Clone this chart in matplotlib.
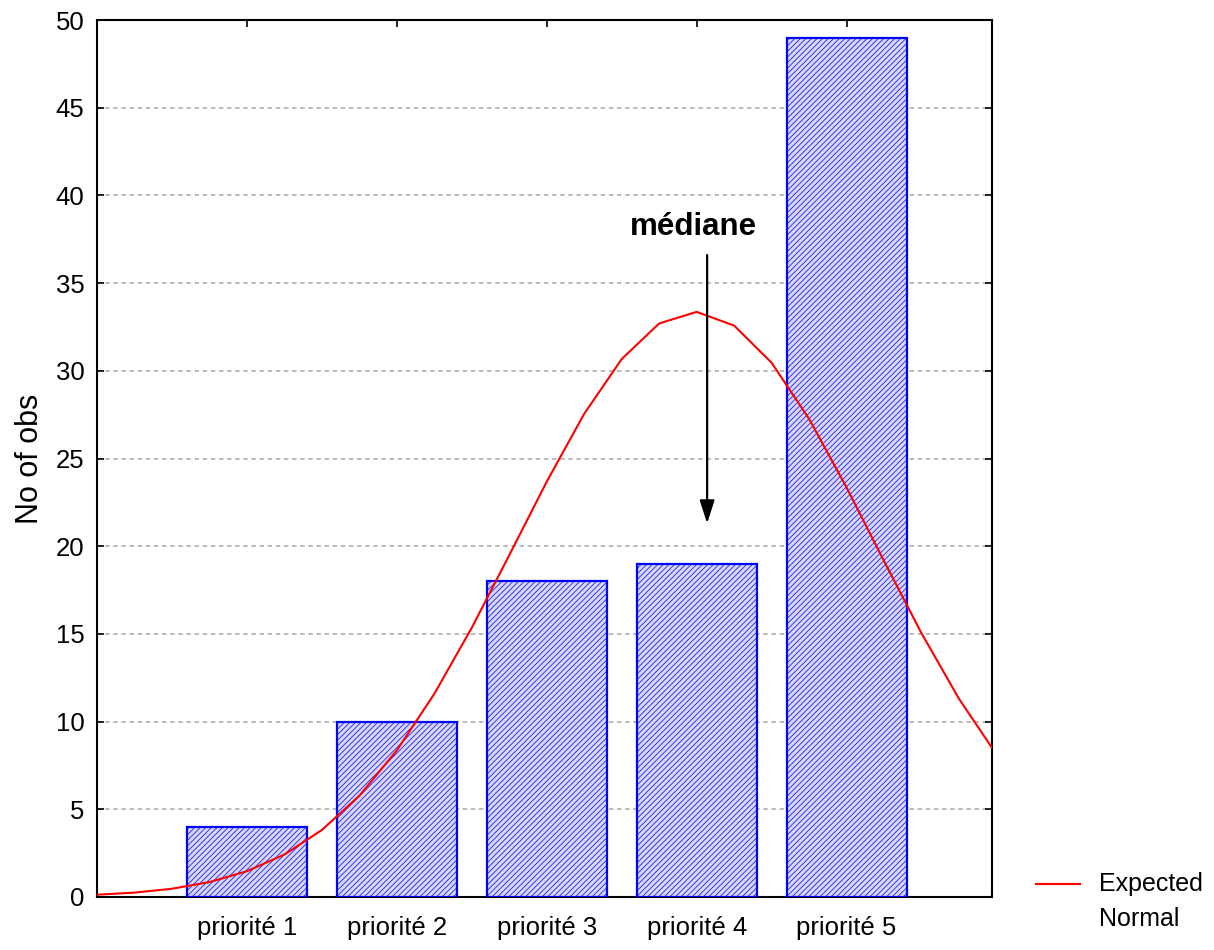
import numpy as np
import matplotlib
matplotlib.use("Agg")
from matplotlib import pyplot as plt
from matplotlib.lines import Line2D

plt.rcParams['font.family'] = ['Liberation Sans', 'DejaVu Sans']
plt.rcParams['hatch.linewidth'] = 0.5
plt.rcParams['hatch.color'] = '#2a2aff'

categories = ["priorité 1", "priorité 2", "priorité 3", "priorité 4", "priorité 5"]
counts = [4, 10, 18, 19, 49]

# expected normal curve
curve_x = [0.0, 0.25, 0.5, 0.75, 1.0, 1.25, 1.5, 1.75, 2.0, 2.25, 2.5, 2.75, 3.0,
           3.25, 3.5, 3.75, 4.0, 4.25, 4.5, 4.75, 5.0, 5.25, 5.5, 5.75, 6.0]
curve_y = [0.13, 0.25, 0.47, 0.85, 1.47, 2.42, 3.82, 5.77, 8.36, 11.58, 15.35, 19.49, 23.68,
           27.55, 30.67, 32.70, 33.36, 32.58, 30.46, 27.26, 23.35, 19.15, 15.04, 11.30, 8.13]

yticks = [0, 5, 10, 15, 20, 25, 30, 35, 40, 45, 50]
median_x = 4.07
median_top = 36.6
median_tip = 21.3

fig = plt.figure(figsize=(12.14, 9.5), dpi=100)
ax = fig.add_axes([0.0799, 0.0558, 0.7372, 0.9231])

xpos = np.arange(1, len(categories) + 1)
ax.bar(xpos, counts, width=0.8, facecolor='#d6d6f6', edgecolor='blue', linewidth=1.6,
       hatch='//////', zorder=3)

line, = ax.plot(curve_x, curve_y, color='red', linewidth=1.5, zorder=4)

ax.set_xlim(0, 5.97)
ax.set_ylim(0, 50)
ax.set_xticks(xpos)
ax.set_xticklabels(categories)
ax.set_yticks(yticks)
ax.tick_params(direction='in', length=5, width=1.2, labelsize=18.5, top=True, right=True, pad=9)
ax.tick_params(axis='x', pad=14)
for s in ax.spines.values():
    s.set_linewidth(1.5)

for v in yticks[1:-1]:
    ax.axhline(v, color='#b4b4b4', linestyle=(0, (2.5, 2)), linewidth=1.3, zorder=1)

ax.set_ylabel("No of obs", fontsize=22, labelpad=8)

ax.annotate('', xy=(median_x, median_tip), xytext=(median_x, median_top),
            arrowprops=dict(arrowstyle='-|>,head_length=1.4,head_width=0.45', color='black',
                            lw=1.6, shrinkA=0, shrinkB=0), zorder=5)
ax.text(3.98, 38.2, "médiane", ha='center', va='center', fontsize=22.5, fontweight='bold',
        bbox=dict(facecolor='white', edgecolor='none', pad=6), zorder=2)

# legend outside the plot
fig.add_artist(Line2D([0.853, 0.890], [0.0695, 0.0695], color='red', linewidth=1.5,
                      transform=fig.transFigure))
fig.text(0.905, 0.0695, "Expected", fontsize=18, va='center', ha='left')
fig.text(0.905, 0.033, "Normal", fontsize=18, va='center', ha='left')

fig.savefig("out.png", dpi=100)
